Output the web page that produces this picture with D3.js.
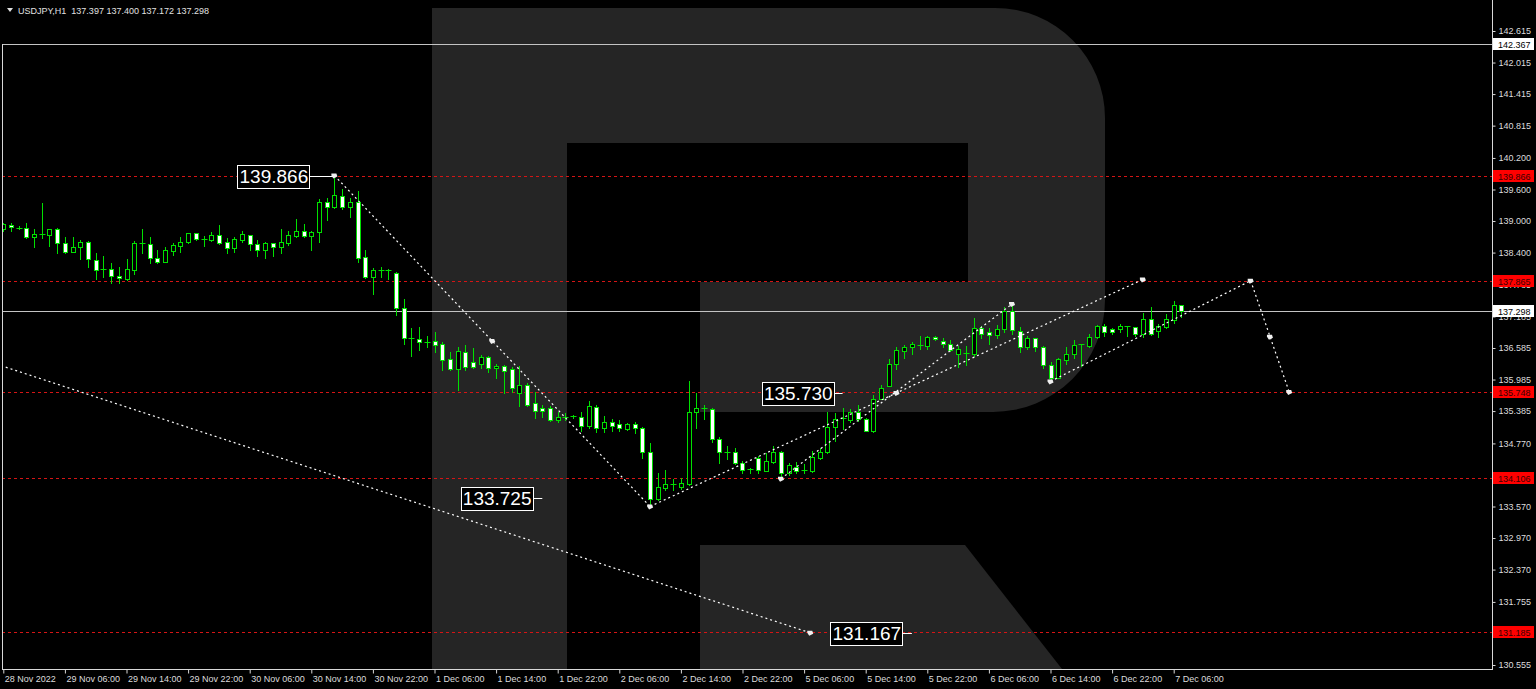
<!DOCTYPE html>
<html>
<head>
<meta charset="utf-8">
<script src="https://cdn.jsdelivr.net/npm/d3@7"></script>
<style>
html, body { margin: 0; padding: 0; background: #000; overflow: hidden; }
svg { display: block; }
</style>
</head>
<body>
<svg id="chart" width="1536" height="689"></svg>
<script>
// hourly candles, 28 Nov 22:00 .. 7 Dec 07:00 (weekend skipped)
var opens = [138.84,138.92,138.87,138.86,138.69,138.74,138.73,138.84,138.58,138.42,138.50,138.60,138.25,138.08,138.08,137.95,137.89,138.06,138.58,138.57,
  138.29,138.23,138.43,138.52,138.60,138.77,138.65,138.64,138.73,138.60,138.48,138.64,138.73,138.56,138.44,138.58,138.50,138.58,138.71,138.81,
  138.71,138.79,139.36,139.26,139.47,139.26,139.36,138.31,137.93,138.06,138.06,138.02,137.34,136.77,136.75,136.69,136.71,136.67,136.37,136.18,
  136.50,136.31,136.29,136.42,136.20,136.25,136.18,135.72,135.89,135.53,135.45,135.45,135.22,135.28,135.29,135.28,135.11,135.47,135.07,135.17,
  135.13,135.05,135.13,135.07,134.60,133.72,133.93,133.97,133.95,134.00,135.36,135.45,135.43,134.86,134.61,134.61,134.40,134.29,134.50,134.25,
  134.42,134.61,134.21,134.33,134.26,134.25,134.50,134.60,135.09,135.24,135.21,135.36,135.24,135.01,135.62,135.87,136.29,136.52,136.60,136.64,
  136.63,136.80,136.71,136.67,136.48,136.49,136.48,136.96,136.88,136.84,136.94,137.28,136.90,136.60,136.77,136.61,136.27,136.02,136.35,136.48,
  136.65,136.63,136.79,137.01,136.94,136.94,137.00,136.98,136.86,137.13,136.90,136.98,137.11,137.397];
var highs = [138.96,138.96,138.91,138.96,138.84,139.34,138.85,138.86,138.69,138.69,138.63,138.62,138.39,138.33,138.20,138.12,138.27,138.62,138.84,138.69,
  138.44,138.50,138.58,138.69,138.78,138.78,138.71,138.79,138.92,138.67,138.69,138.82,138.74,138.63,138.60,138.59,138.84,138.82,139.03,138.94,
  138.81,139.42,139.43,139.87,139.61,139.43,139.57,138.44,138.10,138.12,138.08,138.04,137.51,136.96,136.98,136.82,136.88,136.69,136.50,136.60,
  136.65,136.58,136.46,136.44,136.29,136.26,136.23,136.25,135.91,135.74,135.51,135.49,135.36,135.34,135.31,135.36,135.57,135.51,135.30,135.24,
  135.22,135.15,135.17,135.09,134.77,134.20,134.27,134.10,134.12,135.95,135.72,135.51,135.45,134.90,134.73,134.69,134.44,134.30,134.54,134.58,
  134.73,134.63,134.40,134.42,134.38,134.63,134.69,135.36,135.34,135.45,135.43,135.51,135.26,135.70,135.89,136.37,136.61,136.65,136.69,136.82,
  136.82,136.81,136.77,136.73,136.63,136.63,137.15,137.00,136.96,137.03,137.36,137.42,136.98,136.82,136.78,136.63,136.31,136.39,136.61,136.73,
  136.67,136.86,137.03,137.05,136.96,137.05,137.00,136.99,137.26,137.36,137.05,137.24,137.47,137.400];
var lows = [138.82,138.82,138.84,138.68,138.50,138.67,138.52,138.39,138.39,138.41,138.27,138.12,137.89,137.93,137.83,137.83,137.88,138.00,138.40,138.20,
  138.20,138.22,138.35,138.42,138.58,138.64,138.52,138.62,138.57,138.40,138.42,138.61,138.44,138.33,138.29,138.33,138.40,138.54,138.70,138.70,
  138.44,138.60,139.02,139.24,139.22,139.07,138.23,137.91,137.62,137.93,137.89,137.22,136.67,136.44,136.54,136.61,136.50,136.16,136.17,135.78,
  136.16,136.21,136.21,136.12,136.01,135.72,135.74,135.49,135.49,135.26,135.28,135.20,135.17,135.22,135.26,135.00,135.07,134.98,134.98,135.01,
  135.00,135.03,134.96,134.50,133.60,133.70,133.89,133.89,133.91,133.97,135.07,135.24,134.80,134.39,134.48,134.38,134.21,134.20,134.20,134.24,
  134.39,134.10,134.16,134.20,134.21,134.23,134.48,134.58,134.82,135.05,135.17,135.20,135.00,134.99,135.61,135.86,136.18,136.39,136.48,136.56,
  136.56,136.73,136.61,136.52,136.23,136.27,136.44,136.77,136.67,136.77,136.88,136.86,136.50,136.56,136.52,136.21,135.95,136.01,136.29,136.40,
  136.25,136.61,136.78,136.82,136.86,136.88,136.82,136.82,136.79,136.84,136.80,136.97,137.07,137.172];
var closes = [138.94,138.88,138.86,138.69,138.75,138.75,138.84,138.58,138.42,138.50,138.60,138.27,138.06,138.07,137.95,137.91,138.08,138.58,138.57,138.29,
  138.23,138.44,138.54,138.61,138.77,138.65,138.66,138.73,138.58,138.48,138.65,138.75,138.56,138.44,138.58,138.50,138.60,138.73,138.81,138.71,
  138.80,139.36,139.26,139.49,139.26,139.36,138.29,137.93,138.06,138.06,138.05,137.34,136.77,136.76,136.69,136.70,136.65,136.35,136.18,136.52,
  136.23,136.23,136.42,136.20,136.25,136.14,135.83,135.89,135.51,135.38,135.38,135.22,135.28,135.28,135.28,135.11,135.49,135.07,135.17,135.11,
  135.07,135.13,135.07,134.60,133.72,133.95,134.00,134.00,134.02,135.36,135.45,135.43,134.86,134.61,134.61,134.39,134.27,134.28,134.27,134.44,
  134.61,134.21,134.35,134.25,134.27,134.52,134.60,135.09,135.24,135.25,135.36,135.24,135.01,135.62,135.83,136.29,136.54,136.61,136.67,136.63,
  136.80,136.75,136.67,136.54,136.56,136.48,136.96,136.86,136.84,136.94,137.28,136.92,136.61,136.77,136.60,136.27,136.02,136.38,136.48,136.65,
  136.66,136.80,137.01,136.88,136.88,137.01,136.99,136.86,137.13,136.86,137.00,137.13,137.40,137.298];

var titleText = "USDJPY,H1  137.397 137.400 137.172 137.298";

// time axis: bar index of each label
var dateTicks = [0,8,16,24,32,40,48,56,64,72,80,88,96,104,112,120,128,136,144,152];
var dateLabels = ["28 Nov 2022","29 Nov 06:00","29 Nov 14:00","29 Nov 22:00","30 Nov 06:00","30 Nov 14:00","30 Nov 22:00",
  "1 Dec 06:00","1 Dec 14:00","1 Dec 22:00","2 Dec 06:00","2 Dec 14:00","2 Dec 22:00","5 Dec 06:00","5 Dec 14:00","5 Dec 22:00",
  "6 Dec 06:00","6 Dec 14:00","6 Dec 22:00","7 Dec 06:00"];

var priceTicks = [142.615,142.015,141.415,140.815,140.200,139.600,139.000,138.400,137.785,137.185,136.585,135.985,
  135.385,134.770,134.170,133.570,132.970,132.370,131.755,131.155,130.555];

var levelLines = [139.866,137.865,135.748,134.106,131.185];
var greyLines = [142.367,137.298];

// forecast lines as [bar index, price] pairs
var forecastLines = [
  [[43,139.866],[84,133.57]],
  [[-0.3,136.25],[104.8,131.167]],
  [[84,133.57],[148,137.89]],
  [[101,134.10],[131,137.42]],
  [[136,135.95],[162,137.865]],
  [[162,137.865],[167,135.748]]
];
var markers = [[43,139.866],[63.5,136.72],[84,133.57],[101,134.10],[116,135.73],[131,137.42],[148,137.89],
  [136,135.95],[162,137.865],[164.5,136.80],[167,135.748],[104.8,131.167]];

// big price labels: price, box left (bar index), leader end (bar index)
var tagPrices = [139.866,135.730,133.725,131.167];
var tagLeft = [30.4,98.5,59.4,107.4];
var tagEnd = [42.8,109,70,118];

var svg = d3.select("#chart");
var plotLeft = 2, plotRight = 1492, plotBottom = 669;

var x = d3.scaleLinear().domain([0, 100]).range([3.3, 773.3]);
var y = d3.scaleLinear().domain([130.555, 142.615]).range([665, 31]);

function px(v) { return Math.round(v) + 0.5; }

svg.append("rect").attr("width", 1536).attr("height", 689).attr("fill", "#000");

svg.append("defs").append("clipPath").attr("id", "plot")
  .append("rect").attr("x", plotLeft).attr("y", 0)
  .attr("width", plotRight - plotLeft).attr("height", plotBottom);

var plot = svg.append("g").attr("clip-path", "url(#plot)");

// watermark logo
var logo = plot.append("g").attr("fill", "#252525");
logo.append("path").attr("d", "M432,8 H995 A110,110 0 0 1 1105,118 V300 A112,112 0 0 1 993,412 H700 V282 H968 V143 H567 V669 H432 Z");
logo.append("path").attr("d", "M700,545 H965 L1062,669 H700 Z");

// horizontal levels
plot.selectAll(".level").data(levelLines).enter().append("line")
  .attr("x1", plotLeft).attr("x2", plotRight)
  .attr("y1", function(d) { return px(y(d)); })
  .attr("y2", function(d) { return px(y(d)); })
  .attr("stroke", "#d41515").attr("stroke-dasharray", "3,3");

plot.selectAll(".grey").data(greyLines).enter().append("line")
  .attr("x1", plotLeft).attr("x2", plotRight)
  .attr("y1", function(d) { return px(y(d)); })
  .attr("y2", function(d) { return px(y(d)); })
  .attr("stroke", "#c4c4c4");

// candles
var candles = plot.append("g");
opens.forEach(function(o, i) {
  var c = closes[i];
  var cx = px(x(i));
  candles.append("line")
    .attr("x1", cx).attr("x2", cx)
    .attr("y1", Math.round(y(highs[i]))).attr("y2", Math.round(y(lows[i])) + 1)
    .attr("stroke", "#00e000");
  var top = Math.round(y(Math.max(o, c)));
  var bot = Math.round(y(Math.min(o, c)));
  if (bot - top < 2) {
    candles.append("line")
      .attr("x1", cx - 3).attr("x2", cx + 3)
      .attr("y1", top + 0.5).attr("y2", top + 0.5)
      .attr("stroke", "#00e000");
  } else {
    candles.append("rect")
      .attr("x", cx - 2).attr("y", top + 0.5)
      .attr("width", 4).attr("height", bot - top)
      .attr("fill", c >= o ? "#000" : "#fff")
      .attr("stroke", "#00e000");
  }
});

// forecast lines
var line = d3.line().x(function(d) { return x(d[0]); }).y(function(d) { return y(d[1]); });
plot.selectAll(".fc").data(forecastLines).enter().append("path")
  .attr("d", line).attr("fill", "none")
  .attr("stroke", "#fff").attr("stroke-width", 1.2).attr("stroke-dasharray", "2,3");

plot.selectAll(".mk").data(markers).enter().append("path")
  .attr("transform", function(d) { return "translate(" + x(d[0]) + "," + y(d[1]) + ")"; })
  .attr("d", "M-3,-2 L2,-2 L3,1 L-1,3 L-3,0 Z")
  .attr("fill", "#f0f0f0");

// price tags
var tags = plot.selectAll(".tag").data(tagPrices).enter().append("g");
tags.append("line")
  .attr("x1", function(d, i) { return x(tagLeft[i]) + 72; })
  .attr("x2", function(d, i) { return x(tagEnd[i]); })
  .attr("y1", function(d) { return px(y(d)); })
  .attr("y2", function(d) { return px(y(d)); })
  .attr("stroke", "#fff");
tags.append("rect")
  .attr("x", function(d, i) { return px(x(tagLeft[i])); })
  .attr("y", function(d) { return Math.round(y(d)) - 11 + 0.5; })
  .attr("width", 72).attr("height", 23)
  .attr("fill", "#000").attr("stroke", "#fff");
tags.append("text")
  .attr("x", function(d, i) { return x(tagLeft[i]) + 36.5; })
  .attr("y", function(d) { return y(d) + 7; })
  .attr("text-anchor", "middle")
  .attr("font-family", "Liberation Sans, Arial, sans-serif").attr("font-size", 19)
  .attr("fill", "#fff")
  .text(function(d) { return d.toFixed(3); });

// frame lines
svg.append("line").attr("x1", plotRight + 0.5).attr("x2", plotRight + 0.5).attr("y1", 0).attr("y2", plotBottom + 1).attr("stroke", "#d8d8d8");
svg.append("line").attr("x1", plotLeft).attr("x2", plotRight).attr("y1", plotBottom + 0.5).attr("y2", plotBottom + 0.5).attr("stroke", "#d8d8d8");
svg.append("line").attr("x1", plotLeft + 0.5).attr("x2", plotLeft + 0.5).attr("y1", 44).attr("y2", plotBottom).attr("stroke", "#d8d8d8");

// price axis
var yAxis = svg.append("g")
  .attr("transform", "translate(" + (plotRight + 0.5) + ",0)")
  .call(d3.axisRight(y).tickValues(priceTicks).tickSize(3).tickPadding(3).tickFormat(d3.format(".3f")));
yAxis.select(".domain").remove();
yAxis.selectAll("line").attr("stroke", "#d8d8d8");
yAxis.selectAll("text").attr("fill", "#dcdcdc").attr("font-size", 9)
  .attr("font-family", "Liberation Sans, Arial, sans-serif");

// time axis
var xAxis = svg.append("g")
  .attr("transform", "translate(0," + (plotBottom + 0.5) + ")")
  .call(d3.axisBottom(x).tickValues(dateTicks).tickSize(4).tickPadding(2)
    .tickFormat(function(d, i) { return dateLabels[i]; }));
xAxis.select(".domain").remove();
xAxis.selectAll("line").attr("stroke", "#d8d8d8");
xAxis.selectAll("text").attr("fill", "#dcdcdc").attr("font-size", 9)
  .attr("font-family", "Liberation Sans, Arial, sans-serif")
  .attr("text-anchor", "start").attr("dx", 1);

// axis price boxes
var boxes = svg.append("g");
levelLines.forEach(function(p) {
  var yy = Math.round(y(p));
  boxes.append("rect").attr("x", plotRight + 1).attr("y", yy - 6).attr("width", 41).attr("height", 12).attr("fill", "#ff0000");
  boxes.append("text").attr("x", plotRight + 6).attr("y", yy + 3.5)
    .attr("font-size", 9).attr("font-family", "Liberation Sans, Arial, sans-serif")
    .attr("fill", "#3a0000").text(p.toFixed(3));
});
greyLines.forEach(function(p) {
  var yy = Math.round(y(p));
  boxes.append("rect").attr("x", plotRight + 1).attr("y", yy - 6).attr("width", 41).attr("height", 12).attr("fill", "#ffffff");
  boxes.append("text").attr("x", plotRight + 6).attr("y", yy + 3.5)
    .attr("font-size", 9).attr("font-family", "Liberation Sans, Arial, sans-serif")
    .attr("fill", "#000").text(p.toFixed(3));
});

// title
svg.append("path").attr("d", "M7,8 L13,8 L10,12 Z").attr("fill", "#e0e0e0");
svg.append("text").attr("x", 18).attr("y", 14)
  .attr("font-size", 9).attr("font-family", "Liberation Sans, Arial, sans-serif")
  .attr("fill", "#e0e0e0").attr("xml:space", "preserve")
  .style("white-space", "pre")
  .text(titleText);
</script>
</body>
</html>
